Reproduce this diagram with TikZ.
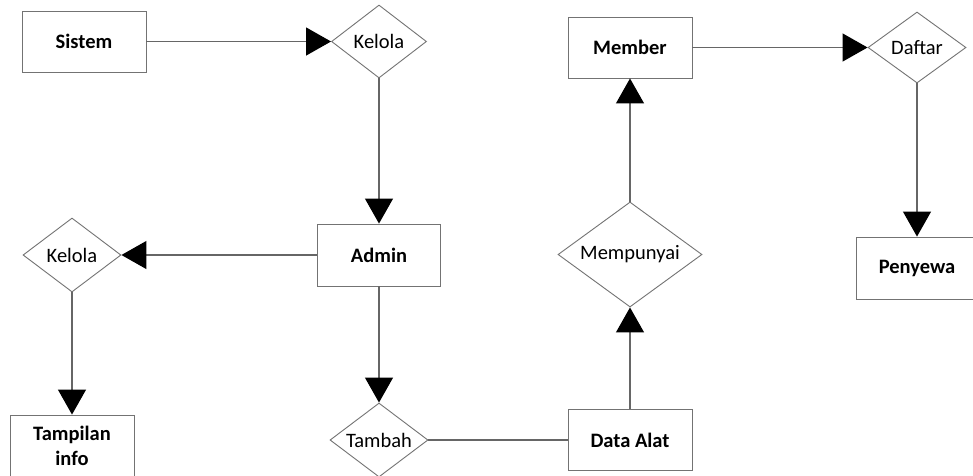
\documentclass[tikz,border=0pt]{standalone}
\usepackage{fontspec}
\setmainfont{Carlito}
\usetikzlibrary{shapes.geometric,arrows.meta}
\begin{document}
\begin{tikzpicture}[x=1pt,y=-1pt,
  ent/.style={draw=black!55, line width=0.9pt, rectangle, minimum width=124pt, minimum height=61pt, inner sep=0pt, font=\fontsize{20.5}{25}\selectfont\bfseries, align=center},
  rel/.style={draw=black!55, line width=0.9pt, diamond, shape aspect=1.35, inner sep=0pt, font=\fontsize{20.5}{25}\selectfont},
  conn/.style={draw=black!60, line width=1.2pt},
  arr/.style={conn, -{Triangle[length=25pt,width=28pt,color=black,fill=black]}}
]
\useasboundingbox (0,0) rectangle (973,475);
\fill[white] (0,0) rectangle (973,475);

\node[ent] (sistem) at (84,41.5) {Sistem};
\node[rel, minimum width=95pt, minimum height=73pt] (kelola1) at (379,41.5) {Kelola};
\node[ent, minimum width=123pt, minimum height=62pt] (admin) at (379,255) {Admin};
\node[rel, minimum width=98pt, minimum height=74pt] (kelola2) at (72,255) {Kelola};
\node[ent] (tampilan) at (72,445.5) {Tampilan\\info};
\node[rel, minimum width=98pt, minimum height=74pt] (tambah) at (379,440) {Tambah};
\node[ent] (dataalat) at (630,440) {Data Alat};
\node[rel, minimum width=144pt, minimum height=105pt] (mempunyai) at (630,254.5) {Mempunyai};
\node[ent] (member) at (630,47.5) {Member};
\node[rel, minimum width=98pt, minimum height=71pt] (daftar) at (917,47.5) {Daftar};
\node[ent, minimum width=122pt, minimum height=62pt] (penyewa) at (917,268) {Penyewa};

\draw[arr] (sistem.east) -- (kelola1.west);
\draw[arr] (kelola1.south) -- (admin.north);
\draw[arr] (admin.west) -- (kelola2.east);
\draw[arr] (kelola2.south) -- (tampilan.north);
\draw[arr] (admin.south) -- (tambah.north);
\draw[conn] (tambah.east) -- (dataalat.west);
\draw[arr] (dataalat.north) -- (mempunyai.south);
\draw[arr] (mempunyai.north) -- (member.south);
\draw[arr] (member.east) -- (daftar.west);
\draw[arr] (daftar.south) -- (penyewa.north);
\end{tikzpicture}
\end{document}
